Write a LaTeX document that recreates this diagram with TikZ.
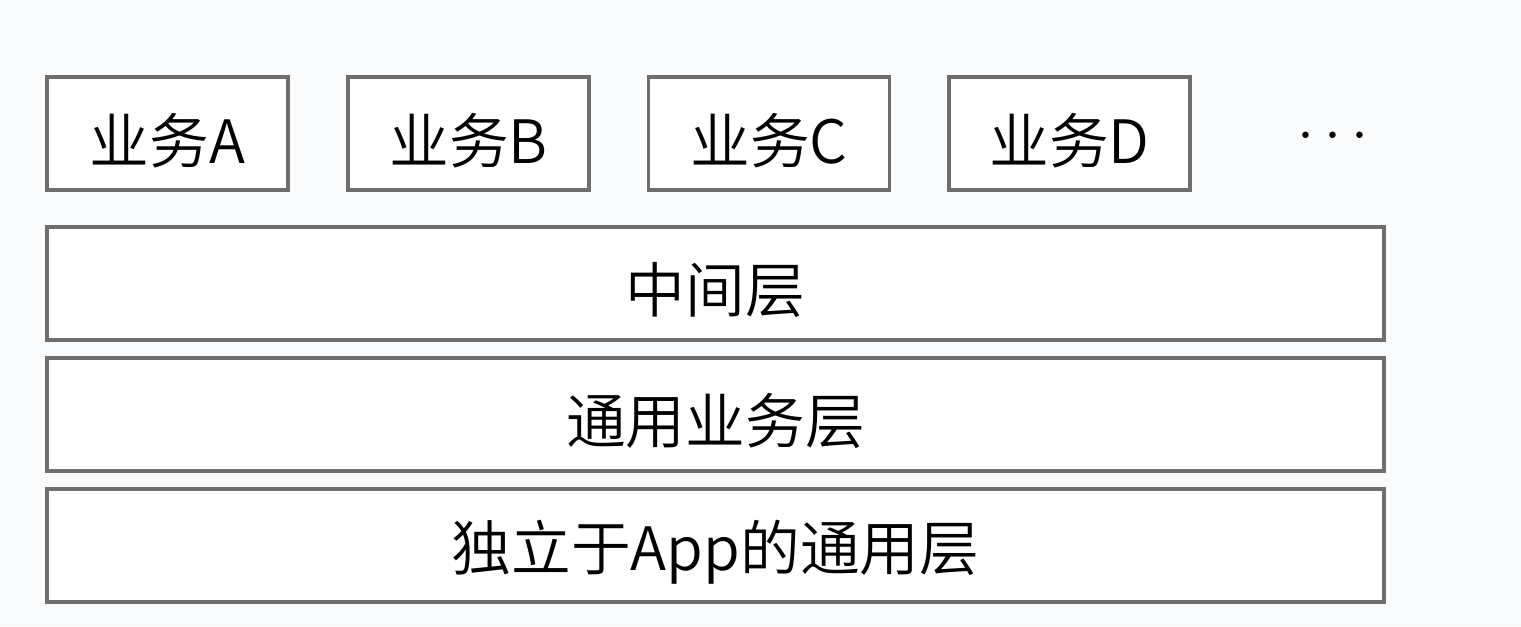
\documentclass[tikz,border=0pt]{standalone}
\usepackage{fontspec}
\setmainfont{Noto Sans CJK SC}[UprightFont={* DemiLight}]
\usetikzlibrary{positioning}
\usepackage{xcolor}
\definecolor{boxgray}{HTML}{6E6E6E}
\definecolor{paper}{HTML}{FAFBFC}

% move the label ink down a little, box size unchanged
\newcommand{\lowtext}[1]{\raisebox{-0.07cm}[\height][\depth]{#1}}

\tikzset{
  layerbox/.style={draw=boxgray, line width=0.9pt, fill=white, inner sep=0pt,
    minimum height=1.13cm, font=\fontsize{17}{20}\selectfont},
  modbox/.style={layerbox, minimum width=2.41cm},
  wide/.style={layerbox, minimum width=13.37cm}
}

\begin{document}
\begin{tikzpicture}
    \fill[paper] (0, 0) rectangle (15.21, 6.26);
    \useasboundingbox (0, 0) rectangle (15.21, 6.26);

    % business modules
    \node[modbox] (bizA) at (1.675, 4.925) {\lowtext{业务A}};
    \node[modbox] (bizB) at (4.685, 4.925) {\lowtext{业务B}};
    \node[modbox] (bizC) at (7.690, 4.925) {\lowtext{业务C}};
    \node[modbox] (bizD) at (10.695, 4.925) {\lowtext{业务D}};
    \node[font=\fontsize{19}{22}\selectfont] (more) at (13.33, 4.89) {$\cdots$};

    % layers
    \node[wide] (middle) at (7.155, 3.425) {\lowtext{中间层}};
    \node[wide] (common) at (7.155, 2.115) {\lowtext{通用业务层}};
    \node[wide] (base) at (7.155, 0.805) {\lowtext{独立于App的通用层}};
  \end{tikzpicture}
\end{document}
